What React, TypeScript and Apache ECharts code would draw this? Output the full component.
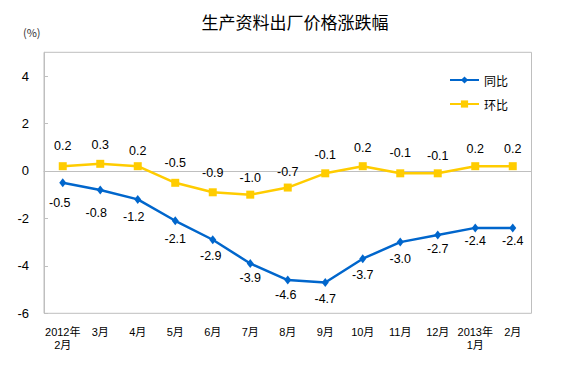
import React, { useEffect, useRef } from "react";
import * as echarts from "echarts";

const categories = ["2012年\n2月", "3月", "4月", "5月", "6月", "7月", "8月", "9月", "10月", "11月", "12月", "2013年\n1月", "2月"];
const yoyValues = [-0.5, -0.8, -1.2, -2.1, -2.9, -3.9, -4.6, -4.7, -3.7, -3.0, -2.7, -2.4, -2.4];
const momValues = [0.2, 0.3, 0.2, -0.5, -0.9, -1.0, -0.7, -0.1, 0.2, -0.1, -0.1, 0.2, 0.2];
const yoyLabelDy = [20, 23, 18, 18, 16, 15, 15, 17, 16, 17, 14, 13, 13];
const momLabelDy = [-20, -19, -15, -20, -19, -17, -16, -18, -18, -20, -17, -17, -17];
const yoyLabelDx = [-3, -4, -4, 0, -2, 0, -2, 0, 0, 0, 0, 0, 0];
const seriesNames = ["同比", "环比"];
const titleText = "生产资料出厂价格涨跌幅";
const unitText = "(%)";

const NUM_FONT = "'Liberation Sans', Arial, 'Noto Sans CJK SC', sans-serif";
const CJK_FONT = "'Noto Sans CJK SC', 'Liberation Sans', sans-serif";

export default function App() {
  const ref = useRef<HTMLDivElement>(null);
  useEffect(() => {
    if (!ref.current) return;
    const chart = echarts.init(ref.current, null, { renderer: "svg" });
    const labelBase = {
      show: true,
      position: "inside",
      color: "#000",
      fontSize: 12.5,
      fontFamily: NUM_FONT,
      formatter: (p: any) => Number(p.value).toFixed(1),
    };
    chart.setOption({
      animation: false,
      backgroundColor: "#fff",
      title: {
        text: titleText,
        left: 290,
        textAlign: "center",
        top: 8,
        textStyle: { fontSize: 17, fontWeight: "normal", color: "#000", fontFamily: CJK_FONT },
      },
      graphic: [
        {
          type: "text",
          left: 23,
          top: 26,
          style: { text: unitText, fontSize: 11, fill: "#333", fontFamily: CJK_FONT },
        },
      ],
      legend: {
        orient: "vertical",
        left: 444,
        top: 69,
        itemWidth: 29,
        itemHeight: 9,
        itemGap: 12,
        textStyle: { fontSize: 12, color: "#000", fontFamily: CJK_FONT },
        data: seriesNames,
      },
      grid: {
        left: 44,
        right: 32.5,
        top: 52.3,
        bottom: 58.7,
        show: true,
        borderColor: "#bfbfbf",
        borderWidth: 1,
        backgroundColor: "transparent",
      },
      xAxis: {
        type: "category",
        data: categories,
        boundaryGap: true,
        axisLine: { lineStyle: { color: "#bfbfbf" } },
        axisTick: { inside: true, length: 4, lineStyle: { color: "#d9d9d9" } },
        axisLabel: {
          interval: 0,
          margin: 12,
          fontSize: 11,
          lineHeight: 13,
          color: "#000",
          fontFamily: NUM_FONT,
        },
        splitLine: { show: false },
      },
      yAxis: {
        type: "value",
        min: -6,
        max: 5,
        interval: 2,
        axisLine: { show: true, lineStyle: { color: "#bfbfbf" } },
        axisTick: { show: true, inside: true, length: 4, lineStyle: { color: "#bfbfbf" } },
        axisLabel: {
          showMaxLabel: false,
          margin: 15,
          fontSize: 13,
          color: "#000",
          fontFamily: NUM_FONT,
          formatter: (v: number) => (v === 5 ? "" : String(v)),
        },
        splitLine: { show: false },
      },
      series: [
        {
          name: seriesNames[0],
          type: "line",
          data: yoyValues.map((v, i) => ({
            value: v,
            label: { offset: [yoyLabelDx[i], yoyLabelDy[i]] },
          })),
          symbol: "diamond",
          symbolSize: [7, 9],
          color: "#0066cc",
          lineStyle: { color: "#0066cc", width: 2.5 },
          itemStyle: { color: "#0066cc" },
          label: labelBase,
          z: 3,
        },
        {
          name: seriesNames[1],
          type: "line",
          data: momValues.map((v, i) => ({
            value: v,
            label: { offset: [0, momLabelDy[i]] },
          })),
          symbol: "rect",
          symbolSize: 8,
          color: "#ffcc00",
          lineStyle: { color: "#ffcc00", width: 2.5 },
          itemStyle: { color: "#ffcc00" },
          label: labelBase,
          z: 2,
        },
      ],
    });
    return () => chart.dispose();
  }, []);
  return (
    <div
      ref={ref}
      style={{ position: "fixed", left: 0, top: 0, width: 564, height: 372, background: "#fff" }}
    />
  );
}
